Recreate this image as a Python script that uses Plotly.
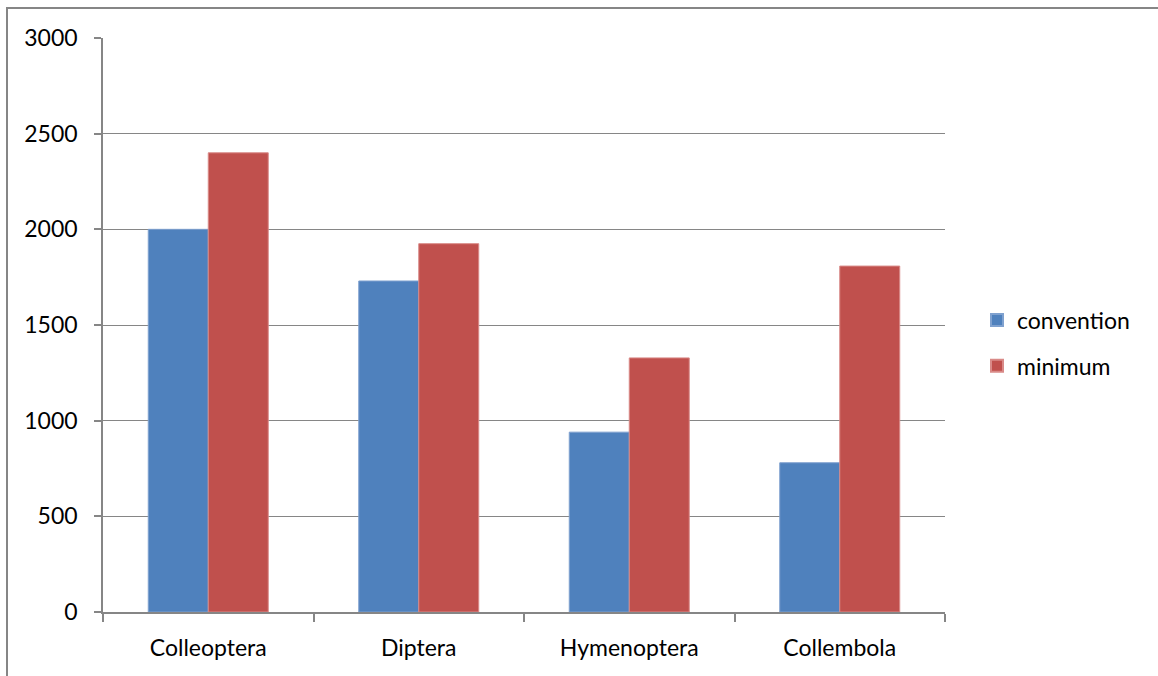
import plotly.graph_objects as go

categories = ["Colleoptera", "Diptera", "Hymenoptera", "Collembola"]
convention = [2000, 1730, 940, 780]
minimum = [2400, 1925, 1328, 1808]

blue = "#4F81BD"
red = "#C0504D"
grey = "#868686"
font = dict(family="Lato, Open Sans, sans-serif", size=23, color="#000000")

fig = go.Figure()
fig.add_trace(go.Bar(x=categories, y=convention, name="convention", legendgroup="a",
                     marker=dict(color=blue, line=dict(color="#7FA1CF", width=1))))
fig.add_trace(go.Bar(x=categories, y=minimum, name="minimum", legendgroup="b",
                     marker=dict(color=red, line=dict(color="#D98A88", width=1))))

L, R, T, B = 103, 213, 38, 64
W, H = 1158, 676
pw, ph = W - L - R, H - T - B

fig.update_layout(
    width=W, height=H,
    margin=dict(l=L, r=R, t=T, b=B),
    paper_bgcolor="white", plot_bgcolor="white",
    barmode="group", bargap=0.43, bargroupgap=0,
    font=font,
    showlegend=True,
    legend=dict(x=(977 - L) / pw, y=(612 - 343) / ph, xanchor="left",
                yanchor="middle", font=font, itemsizing="constant",
                tracegroupgap=13, itemwidth=30),
    xaxis=dict(showline=True, linecolor=grey, linewidth=1.5,
               ticks="outside", ticklen=8, tickcolor=grey, tickwidth=1.5,
               tickson="boundaries", showgrid=False, tickfont=font,
               ticklabelstandoff=15),
    yaxis=dict(range=[0, 3000], dtick=500, showline=True, linecolor=grey,
               linewidth=1.5, ticks="outside", ticklen=7, tickcolor=grey,
               tickwidth=1.5, showgrid=True, gridcolor=grey, gridwidth=1.2,
               zeroline=False, tickfont=font, ticklabelstandoff=12),
    shapes=[dict(type="rect", xref="paper", yref="paper",
                 x0=(7 - L) / pw, x1=(W + 5 - L) / pw,
                 y0=-(H + 5 - T - ph) / ph, y1=1 + (T - 8) / ph,
                 line=dict(color=grey, width=2), fillcolor="rgba(0,0,0,0)",
                 layer="below")],
)

fig.write_html("out.html")
